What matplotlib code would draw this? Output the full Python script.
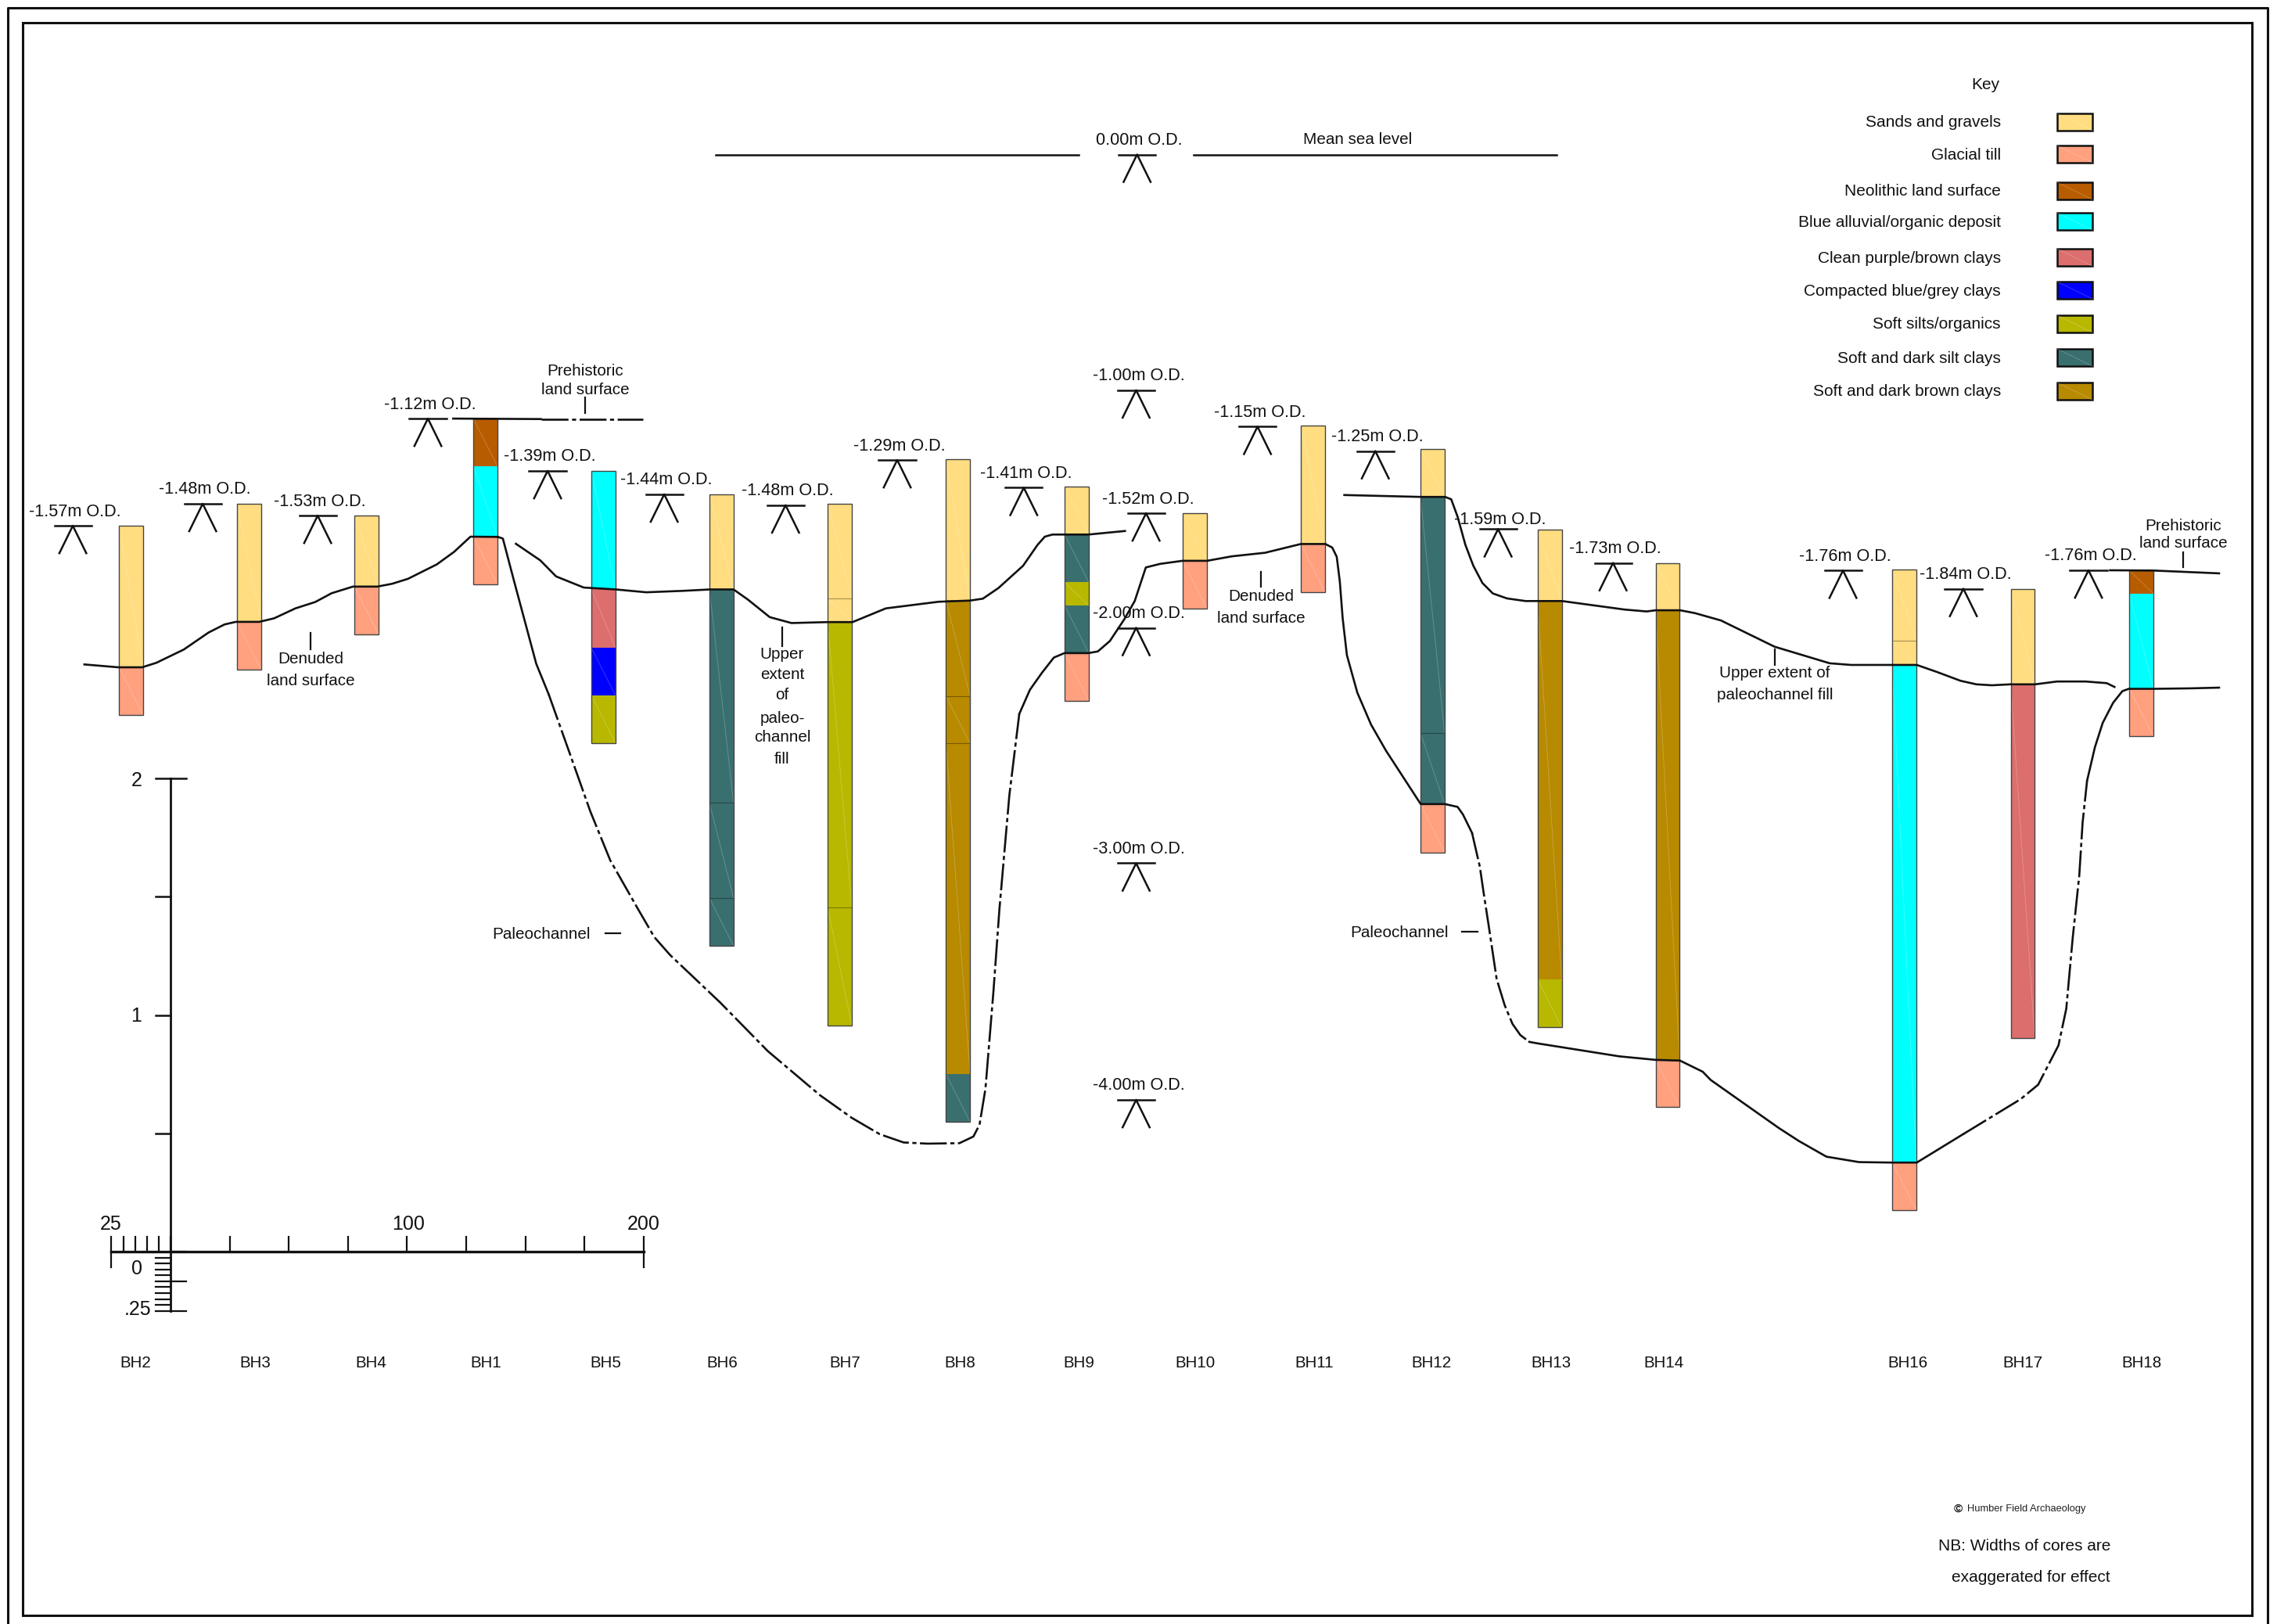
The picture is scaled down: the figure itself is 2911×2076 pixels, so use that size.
import matplotlib
matplotlib.use('Agg')
import matplotlib.pyplot as plt
from matplotlib.patches import Rectangle

plt.rcParams['font.family'] = ['Liberation Sans', 'DejaVu Sans']

# key
key_labels = ['Sands and gravels', 'Glacial till', 'Neolithic land surface',
              'Blue alluvial/organic deposit', 'Clean purple/brown clays',
              'Compacted blue/grey clays', 'Soft silts/organics',
              'Soft and dark silt clays', 'Soft and dark brown clays']
key_colors = ['#FFDD80', '#FFA07F', '#B85C00', '#00FFFF', '#DC6E6E',
              '#0000FF', '#B8B800', '#3A6F6F', '#B88A00']
key_rows = [157, 198, 245, 284, 330, 372, 415, 458, 501]

# layer codes are indexes into key_colors
SAND, TILL, NEO, BLUE, PURPLE, COMPACT, SILT, TEAL, BROWN = range(9)

# boreholes: left edge along section, levels in m O.D. (positive = below datum)
bh_names = ['BH2', 'BH3', 'BH4', 'BH1', 'BH5', 'BH6', 'BH7', 'BH8', 'BH9',
            'BH10', 'BH11', 'BH12', 'BH13', 'BH14', 'BH16', 'BH17', 'BH18']
bh_x = [-21.8, 28.1, 77.7, 128.0, 177.9, 227.8, 277.8, 327.8, 378.0,
        427.9, 477.8, 528.4, 577.9, 627.8, 727.8, 777.9, 828.0]
bh_width = 10.2
bh_levels = [
    [1.569, 2.167, 2.369],
    [1.476, 1.975, 2.177],
    [1.526, 1.826, 2.028],
    [1.116, 1.317, 1.615, 1.817],
    [1.337, 1.836, 2.084, 2.286, 2.488],
    [1.436, 1.836, 2.739, 3.142, 3.344],
    [1.477, 1.876, 1.974, 3.182, 3.680],
    [1.287, 1.882, 2.289, 2.488, 3.886, 4.089],
    [1.403, 1.606, 1.808, 1.906, 2.107, 2.308],
    [1.515, 1.717, 1.918],
    [1.145, 1.646, 1.849],
    [1.244, 1.447, 2.445, 2.745, 2.949],
    [1.586, 1.887, 3.487, 3.688],
    [1.726, 1.926, 3.829, 4.024],
    [1.753, 2.054, 2.157, 4.260, 4.460],
    [1.835, 2.236, 3.735],
    [1.757, 1.855, 2.256, 2.458],
]
bh_layers = [
    [SAND, TILL],
    [SAND, TILL],
    [SAND, TILL],
    [NEO, BLUE, TILL],
    [BLUE, PURPLE, COMPACT, SILT],
    [SAND, TEAL, TEAL, TEAL],
    [SAND, SAND, SILT, SILT],
    [SAND, BROWN, BROWN, BROWN, TEAL],
    [SAND, TEAL, SILT, TEAL, TILL],
    [SAND, TILL],
    [SAND, TILL],
    [SAND, TEAL, TEAL, TILL],
    [SAND, BROWN, SILT],
    [SAND, BROWN, TILL],
    [SAND, SAND, BLUE, TILL],
    [SAND, PURPLE],
    [NEO, BLUE, TILL],
]
bh_label_x = [173, 326, 474, 621, 774, 923, 1080, 1227, 1379, 1528, 1680,
              1830, 1983, 2127, 2439, 2586, 2738]

# surveyed levels
marker_labels = ['-1.57m O.D.', '-1.48m O.D.', '-1.53m O.D.', '-1.12m O.D.',
                 '-1.39m O.D.', '-1.44m O.D.', '-1.48m O.D.', '-1.29m O.D.',
                 '-1.41m O.D.', '-1.52m O.D.', '-1.15m O.D.', '-1.25m O.D.',
                 '-1.59m O.D.', '-1.73m O.D.', '-1.76m O.D.', '-1.84m O.D.',
                 '-1.76m O.D.', '0.00m O.D.', '-1.00m O.D.', '-2.00m O.D.',
                 '-3.00m O.D.', '-4.00m O.D.']
marker_x = [-41.3, 13.6, 62.2, 108.8, 159.4, 208.7, 260.0, 307.2, 360.7, 412.4,
            459.5, 509.3, 561.2, 609.8, 707.0, 757.9, 810.8,
            408.6, 408.2, 408.2, 408.2, 408.2]
marker_y = [1.569, 1.476, 1.526, 1.116, 1.337, 1.436, 1.482, 1.291, 1.408, 1.516,
            1.150, 1.253, 1.583, 1.726, 1.758, 1.835, 1.757,
            0.0, 0.996, 2.0, 2.995, 3.995]

# land surface lines (x along section, level below datum)
surface_a_x = [-36.4, -22.1, -12.0, -6.0, 5.6, 16.1, 22.8, 27.6, 37.5, 43.8, 52.8,
               61.2, 68.1, 77.1, 87.4, 93.7, 100.4, 112.6, 119.9, 126.8, 138.4]
surface_a_y = [2.155, 2.167, 2.167, 2.148, 2.092, 2.020, 1.986, 1.975, 1.975, 1.960,
               1.918, 1.891, 1.854, 1.826, 1.826, 1.814, 1.793, 1.732, 1.679, 1.615, 1.616]
surface_b_x = [146.0, 156.3, 163.0, 174.7, 188.2, 201.1, 216.5, 228.1, 238.0, 244.1,
               253.3, 262.5, 277.8, 288.3, 302.4, 324.7, 338.0, 343.4, 350.0, 360.4,
               366.5, 369.6, 372.8, 388.0, 403.5]
surface_b_y = [1.645, 1.715, 1.783, 1.830, 1.838, 1.850, 1.844, 1.838, 1.838, 1.881,
               1.955, 1.980, 1.976, 1.976, 1.918, 1.890, 1.885, 1.877, 1.832, 1.738,
               1.650, 1.615, 1.606, 1.606, 1.591]
surface_c_x = [496.2, 528.5, 538.8, 541.4, 544.1, 547.4, 550.7, 554.6, 559.0, 565.0,
               572.8, 588.2, 614.7, 624.0, 627.9, 638.1, 644.4, 655.4, 678.1, 701.4,
               710.4, 727.9, 738.2, 746.8, 756.7, 763.4, 770.0, 777.7, 788.2, 797.5,
               809.6, 818.5, 821.8]
surface_c_y = [1.439, 1.447, 1.447, 1.457, 1.531, 1.650, 1.737, 1.811, 1.855, 1.876,
               1.887, 1.887, 1.923, 1.931, 1.926, 1.926, 1.938, 1.969, 2.080, 2.150,
               2.157, 2.157, 2.157, 2.187, 2.224, 2.239, 2.243, 2.239, 2.239, 2.227,
               2.227, 2.234, 2.250]
prehistoric_b_x = [819.9, 838.0, 866.0]
prehistoric_b_y = [1.757, 1.758, 1.770]

# paleochannel base, solid parts and dash-dot parts
channel_1_x = [138.4, 140.5, 145.1, 154.6, 159.9]
channel_1_y = [1.616, 1.623, 1.798, 2.152, 2.282]
channel_2_x = [159.9, 168.2, 177.5, 185.9, 197.7, 204.5, 211.2, 232.3, 252.5, 274.5,
               288.0, 299.8, 309.9, 320.0, 333.5, 339.4, 342.0, 344.5, 347.9, 350.4,
               354.6, 358.8]
channel_2_y = [2.282, 2.515, 2.777, 2.983, 3.190, 3.307, 3.383, 3.583, 3.789, 3.975,
               4.071, 4.140, 4.175, 4.180, 4.178, 4.150, 4.100, 3.948, 3.534, 3.190,
               2.708, 2.364]
channel_3_x = [358.8, 363.3, 368.4, 373.4, 377.9, 388.0, 392.0, 397.1, 403.2, 407.6,
               412.3, 418.3, 427.8, 438.2, 448.7, 462.7, 477.8, 488.2, 491.1, 493.0,
               494.3, 495.5, 497.3, 501.7, 507.5, 513.8, 528.5, 538.8, 544.1, 546.3,
               550.2]
channel_3_y = [2.364, 2.262, 2.190, 2.126, 2.107, 2.107, 2.100, 2.056, 1.964, 1.887,
               1.745, 1.730, 1.717, 1.717, 1.698, 1.683, 1.646, 1.646, 1.661, 1.700,
               1.804, 1.959, 2.116, 2.274, 2.409, 2.519, 2.745, 2.745, 2.757, 2.788,
               2.867]
channel_4_x = [550.2, 553.5, 555.1, 557.3, 560.6, 564.0, 567.3, 570.6, 574.4]
channel_4_y = [2.867, 3.010, 3.120, 3.263, 3.484, 3.595, 3.674, 3.721, 3.750]
channel_5_x = [574.4, 577.7, 612.4, 627.9, 638.1, 647.7, 651.1, 679.9, 688.4, 700.0,
               713.8, 727.9, 738.2, 757.8]
channel_5_y = [3.750, 3.756, 3.811, 3.826, 3.829, 3.876, 3.911, 4.114, 4.169, 4.235,
               4.258, 4.260, 4.260, 4.140]
channel_6_x = [757.8, 782.1, 789.5, 798.1, 801.4, 804.1, 806.9, 808.3, 810.2]
channel_6_y = [4.140, 3.992, 3.931, 3.765, 3.610, 3.313, 3.046, 2.824, 2.646]
channel_7_x = [810.2, 813.5, 816.8, 821.2, 825.1, 827.8, 838.1, 853.7, 866.0]
channel_7_y = [2.646, 2.505, 2.402, 2.317, 2.268, 2.258, 2.258, 2.256, 2.253]

# scale bar values
scale_x_major = [25, 50, 75, 100, 125, 150, 175, 200]
scale_x_minor = [-25, -20, -15, -10, -5, 0]
scale_y_major = [0.5, 1.0, 1.5, 2.0]
scale_y_minor = [0.025, 0.05, 0.075, 0.1, 0.125, 0.15, 0.175, 0.2, 0.225, 0.25]

BLACK = '#111111'
DASHDOT = (0, (13, 1.7, 2, 1.7))

fig = plt.figure(figsize=(29.11, 20.76), dpi=100, facecolor='white')
ax = fig.add_axes([0, 0, 1, 1])
ax.set_xlim(-218 / 3.0242, (2911 - 218) / 3.0242)
ax.set_ylim((2076 - 197.5) / 302.5, -197.5 / 302.5)
ax.axis('off')

# second axes in picture pixels for the frame, key, scale bar and notes
px = fig.add_axes([0, 0, 1, 1])
px.set_xlim(0, 2911)
px.set_ylim(2076, 0)
px.axis('off')
px.patch.set_alpha(0)

# cores: fills, faint diagonals, faint seams inside one material, then the outline
for x, levels, layers in zip(bh_x, bh_levels, bh_layers):
    for i, layer in enumerate(layers):
        top, bottom = levels[i], levels[i + 1]
        ax.bar(x, bottom - top, bh_width, bottom=top, align='edge', color=key_colors[layer],
               linewidth=0, zorder=2)
        ax.plot([x, x + bh_width], [top, bottom], color='white', alpha=0.22, lw=0.7, zorder=3)
        if i > 0 and layers[i - 1] == layer:
            ax.plot([x, x + bh_width], [top, top], color='black', alpha=0.35, lw=0.8, zorder=3)
    ax.bar(x, levels[-1] - levels[0], bh_width, bottom=levels[0], align='edge', fill=False,
           edgecolor='#444444', linewidth=1.0, zorder=3)

# land surface and channel lines
for xs, ys in [(surface_a_x, surface_a_y), (surface_b_x, surface_b_y),
               (surface_c_x, surface_c_y), (prehistoric_b_x, prehistoric_b_y),
               (channel_1_x, channel_1_y), (channel_3_x, channel_3_y),
               (channel_5_x, channel_5_y), (channel_7_x, channel_7_y)]:
    ax.plot(xs, ys, color=BLACK, lw=1.9, zorder=4)
for xs, ys in [(channel_2_x, channel_2_y), (channel_4_x, channel_4_y), (channel_6_x, channel_6_y)]:
    ax.plot(xs, ys, color=BLACK, lw=1.9, linestyle=DASHDOT, zorder=4)

# prehistoric surface at BH1
ax.plot([119.5, 156.6], [1.116, 1.118], color=BLACK, lw=1.9, zorder=4)
ax.plot([156.6, 199.6], [1.118, 1.118], color=BLACK, lw=1.9, linestyle=DASHDOT, zorder=4)

# mean sea level
ax.plot([230.5, 383.9], [0, 0], color=BLACK, lw=1.8)
ax.plot([432.5, 586.0], [0, 0], color=BLACK, lw=1.8)

# level markers
for label, x, y in zip(marker_labels, marker_x, marker_y):
    ax.plot([x - 7.8, x + 7.8], [y, y], color=BLACK, lw=1.8, zorder=5)
    ax.plot([x - 5.7, x, x + 5.7], [y + 0.116, y, y + 0.116], color=BLACK, lw=1.8, zorder=5)
    raise_px = 12 if label == '-1.59m O.D.' else 18
    ax.annotate(label, (x, y), xytext=(3, raise_px), textcoords='offset pixels',
                ha='center', va='center', fontsize=15.6, color=BLACK, zorder=6)

# frame, the outer one runs off the bottom of the sheet
px.plot([10, 10, 2899, 2899], [2076, 10, 10, 2076], color=BLACK, lw=2.2)
px.add_patch(Rectangle((29, 29), 2850, 2035.5, fill=False, edgecolor=BLACK, lw=2.2))

# key
px.text(2556, 109, 'Key', ha='right', va='center', fontsize=15, color=BLACK)
for label, color, row in zip(key_labels, key_colors, key_rows):
    px.text(2558, row, label, ha='right', va='center', fontsize=15, color=BLACK)
    px.add_patch(Rectangle((2630, row - 12), 45, 22, facecolor=color, edgecolor=BLACK, lw=1.8))
    px.plot([2630, 2675], [row - 12, row + 10], color='white', alpha=0.25, lw=0.6)

# scale bar
x0, y0, sx, sy = 218, 1600, 3.0242, 302.5
px.plot([x0, x0], [y0 - 2 * sy, y0 + 0.25 * sy], color=BLACK, lw=2.0)
px.plot([x0 - 25 * sx, x0 + 200 * sx], [y0, y0], color=BLACK, lw=2.4)
for v in scale_x_major + scale_x_minor:
    px.plot([x0 + v * sx] * 2, [y0 - 19, y0], color=BLACK, lw=1.6)
for v in [-25, 200]:
    px.plot([x0 + v * sx] * 2, [y0, y0 + 20], color=BLACK, lw=1.6)
for v in scale_y_major:
    px.plot([x0 - 19, x0], [y0 - v * sy] * 2, color=BLACK, lw=1.8)
px.plot([x0, x0 + 20], [y0 - 2 * sy] * 2, color=BLACK, lw=1.8)
for v in scale_y_minor:
    px.plot([x0 - 19, x0], [y0 + v * sy] * 2, color=BLACK, lw=1.6)
for v in [0, 0.125, 0.25]:
    px.plot([x0, x0 + 20], [y0 + v * sy] * 2, color=BLACK, lw=1.6)
for s, xt, yt in [('25', 142, 1565), ('100', 522, 1565), ('200', 823, 1565), ('0', 175, 1622),
                  ('.25', 176, 1674), ('2', 175, 998), ('1', 174, 1299)]:
    px.text(xt, yt, s, ha='center', va='center', fontsize=18, color=BLACK)

# borehole names
for name, xt in zip(bh_names, bh_label_x):
    px.text(xt, 1743, name, ha='center', va='center', fontsize=14.8, color=BLACK)

# notes with leader ticks
notes = [
    (748, [475, 499], ['Prehistoric', 'land surface']),
    (397, [842, 870], ['Denuded', 'land surface']),
    (1000, [836, 863, 888, 918, 943, 970], ['Upper', 'extent', 'of', 'paleo-', 'channel', 'fill']),
    (1612, [763, 791], ['Denuded', 'land surface']),
    (2269, [861, 888], ['Upper extent of', 'paleochannel fill']),
    (2791, [672, 695], ['Prehistoric', 'land surface']),
    (1736, [179], ['Mean sea level']),
]
for xt, rows, lines in notes:
    for yt, line in zip(rows, lines):
        px.text(xt, yt, line, ha='center', va='center', fontsize=14.9, color=BLACK)
for xt, y1, y2 in [(748, 508, 528), (397, 809, 830), (1000, 802, 826), (1612, 731, 750),
                   (2269, 830, 850), (2791, 706, 725)]:
    px.plot([xt, xt], [y1, y2], color=BLACK, lw=1.6)

px.text(755, 1194, 'Paleochannel', ha='right', va='center', fontsize=14.9, color=BLACK)
px.plot([774, 793], [1193, 1193], color=BLACK, lw=1.6)
px.text(1852, 1192, 'Paleochannel', ha='right', va='center', fontsize=14.9, color=BLACK)
px.plot([1869, 1889], [1191, 1191], color=BLACK, lw=1.6)

# credits
px.text(2503, 1929, '©', ha='center', va='center', fontsize=11, fontweight='bold', color=BLACK)
px.text(2515, 1929, 'Humber Field Archaeology', ha='left', va='center', fontsize=9.3, color='#222222')
px.text(2698, 1977, 'NB: Widths of cores are', ha='right', va='center', fontsize=15, color=BLACK)
px.text(2698, 2016, 'exaggerated for effect', ha='right', va='center', fontsize=15, color=BLACK)

fig.savefig('out.png', dpi=100, facecolor='white')
